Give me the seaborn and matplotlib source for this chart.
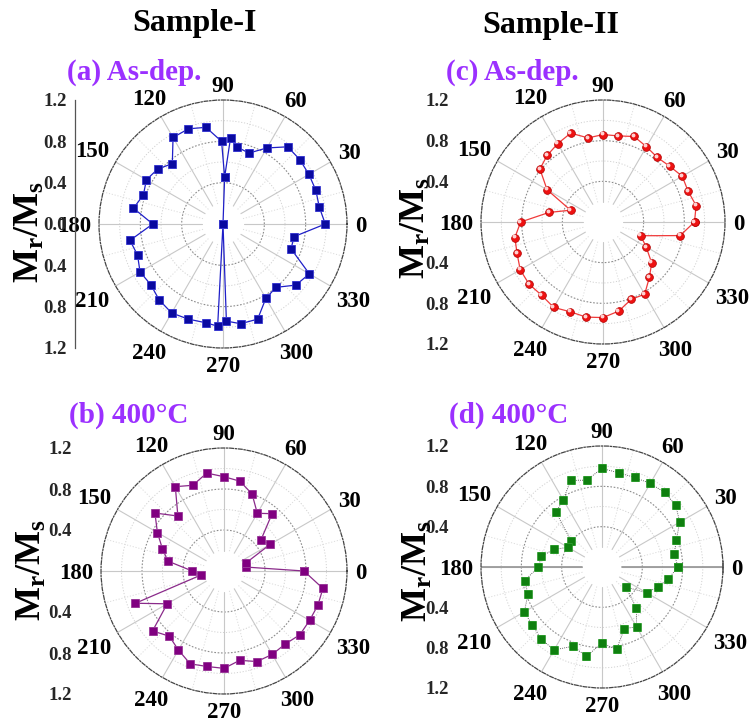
import numpy as np
import matplotlib
matplotlib.use("Agg")
import matplotlib.pyplot as plt
from matplotlib.ticker import MultipleLocator, FuncFormatter
from matplotlib.transforms import ScaledTranslation
import seaborn as sns

sns.set_theme(style="white")
plt.rcParams["font.family"] = ["Liberation Serif", "DejaVu Serif"]
plt.rcParams["font.weight"] = "bold"
plt.rcParams["mathtext.fontset"] = "custom"
plt.rcParams["mathtext.rm"] = "Liberation Serif:bold"
plt.rcParams["mathtext.bf"] = "Liberation Serif:bold"
plt.rcParams["mathtext.it"] = "Liberation Serif:bold"

# ---------------- data ----------------
# (a) Sample-I as-deposited, listed in drawing (path) order
a_theta = [88, 91, 100, 110, 120, 130, 140, 150, 160, 170, 180, 190, 200, 210,
           220, 230, 240, 250, 260, 267, 90, 272, 280, 290, 300, 310, 320, 330,
           340, 350, 0, 10, 20, 30, 40, 50, 60, 70, 80, 85, 88, 90]
a_r = [0.455, 0.80, 0.95, 0.98, 0.967, 0.763, 0.826, 0.856, 0.82, 0.88, 0.68,
       0.914, 0.88, 0.927, 0.913, 0.96, 0.994, 0.98, 0.97, 0.99, 0.0, 0.94,
       0.98, 0.98, 0.83, 0.80, 0.92, 0.965, 0.70, 0.70, 0.99, 0.946, 0.956,
       0.96, 0.97, 0.975, 0.85, 0.73, 0.76, 0.836, 0.455, 0.0]

angles = list(range(0, 360, 10))
# (b) Sample-I 400 C
b_r = [0.78, 0.22, 0.227, 0.52, 0.47, 0.73, 0.65, 0.80, 0.89, 0.92, 0.97, 0.89,
       0.95, 0.70, 0.88, 0.75, 0.64, 0.556, 0.31, 0.23, 0.92, 0.64, 0.91, 0.83,
       0.89, 0.964, 0.946, 0.95, 0.885, 0.94, 0.94, 0.93, 0.967, 0.964, 0.975, 0.98]
# (c) Sample-II as-deposited
c_r = [0.90, 0.93, 0.89, 0.90, 0.855, 0.83, 0.855, 0.895, 0.86, 0.86, 0.84, 0.93,
       0.89, 0.855, 0.81, 0.635, 0.34, 0.54, 0.81, 0.88, 0.90, 0.94, 0.95, 0.94,
       0.97, 0.94, 0.95, 0.94, 0.89, 0.81, 0.82, 0.71, 0.625, 0.49, 0.395, 0.77]
# (d) Sample-II 400 C
d_r = [0.755, 0.726, 0.785, 0.89, 0.954, 0.966, 0.957, 0.945, 0.95, 0.977, 0.875,
       0.913, 0.768, 0.71, 0.40, 0.39, 0.51, 0.61, 0.63, 0.78, 0.78, 0.89, 0.90,
       0.936, 0.95, 0.836, 0.90, 0.755, 0.83, 0.65, 0.686, 0.53, 0.31, 0.51,
       0.587, 0.667]

theta_ticks = list(range(0, 360, 30))
column_titles = ["Sample-I", "Sample-II"]
panel_titles = {"a": "(a) As-dep.", "b": "(b) 400°C", "c": "(c) As-dep.", "d": "(d) 400°C"}
ylabel = r"$\mathbf{M_r/M_s}$"

# ---------------- layout ----------------
W, H = 749, 720
fig = plt.figure(figsize=(W / 100, H / 100), dpi=100)
fig.patch.set_facecolor("white")

def fx(x):
    return x / W

def fy(y):
    return 1 - y / H


def make_polar(cx, cy, R, key):
    ax = fig.add_axes([fx(cx - R), fy(cy + R), 2 * R / W, 2 * R / H], projection="polar")
    ax.set_facecolor("none")
    ax.grid(False)
    ax.set_xticks([])
    ax.set_yticks([])
    sp = ax.spines["polar"]
    sp.set_color("#444444")
    sp.set_linewidth(0.9)
    sp.set_linestyle((0, (3, 1.5, 1, 1.5)))
    th = np.linspace(0, 2 * np.pi, 361)
    for rr in (0.4, 0.8):
        ax.plot(th, np.full_like(th, rr), ls=(0, (1.5, 1.5)), color="#8c8c8c", lw=0.8, zorder=1)
    for rr in (0.6, 1.0):
        ax.plot(th, np.full_like(th, rr), ls=(0, (1.2, 1.8)), color="#d2d2d2", lw=0.7, zorder=1)
    for a in range(0, 360, 30):
        ax.plot([np.deg2rad(a)] * 2, [0.2, 1.2], color="#c8c8c8", lw=0.8, zorder=1)
    for a in range(15, 360, 30):
        ax.plot([np.deg2rad(a)] * 2, [0.2, 1.2], color="#dcdcdc", lw=0.7,
                ls=(0, (1.2, 1.8)), zorder=1)
    if key == "d":
        for a in (0, 180):
            ax.plot([np.deg2rad(a)] * 2, [0.2, 1.2], color="#9a9a9a", lw=1.3, zorder=1)
        ax.plot([0], [1.2], marker="|", ms=9, mew=1.2, color="#777777", clip_on=False)
    # angular labels
    fs = 16.5
    em = fs * 100 / 72
    for a in theta_ticks:
        lab = str(a)
        w = len(lab) * 0.5 * em
        h = 0.66 * em
        t = np.deg2rad(a)
        d = R + 8 + abs(np.cos(t)) * w / 2 + abs(np.sin(t)) * h / 2
        ax.text(t, 1.2 * d / R, lab, ha="center", va="center_baseline", fontsize=fs,
                fontweight="bold", color="black", clip_on=False)
    return ax


def make_raxis(xline, cy, R, show_spine, show_ticks, with_zero):
    ay = fig.add_axes([fx(xline), fy(cy + R), 0.0005, 2 * R / H])
    ay.patch.set_alpha(0)
    ay.set_ylim(-1.2, 1.2)
    ticks = [-1.2, -0.8, -0.4, 0.0, 0.4, 0.8, 1.2] if with_zero else [-1.2, -0.8, -0.4, 0.4, 0.8, 1.2]
    ay.set_yticks(ticks)
    ay.yaxis.set_major_formatter(FuncFormatter(lambda v, p: f"{abs(v):.1f}"))
    ay.set_xticks([])
    for s in ("top", "right", "bottom"):
        ay.spines[s].set_visible(False)
    ay.spines["left"].set_visible(show_spine)
    ay.spines["left"].set_color("#555555")
    ay.spines["left"].set_linewidth(0.9)
    ay.tick_params(axis="y", which="major", length=4 if show_ticks else 0, width=0.8,
                   direction="out", color="#555555", labelsize=13.5, pad=2)
    for lab in ay.get_yticklabels():
        lab.set_fontweight("bold")
    if show_ticks and show_spine:
        ay.yaxis.set_minor_locator(MultipleLocator(0.2))
        ay.tick_params(axis="y", which="minor", length=2.5, width=0.7,
                       direction="out", color="#555555")
    return ay


panels = {
    "a": dict(cx=223, cy=224, R=124, xline=75, spine=True, ticks=True, zero=True,
              title_x=67, title_y=72, ylab=(30, 232)),
    "b": dict(cx=224, cy=571, R=123, xline=75, spine=False, ticks=False, zero=False,
              title_x=69, title_y=415, ylab=(32, 570)),
    "c": dict(cx=603, cy=222, R=122, xline=457, spine=False, ticks=True, zero=False,
              title_x=446, title_y=72, ylab=(416, 228)),
    "d": dict(cx=602, cy=567, R=121, xline=457, spine=False, ticks=True, zero=False,
              title_x=449, title_y=415, ylab=(418, 571)),
}

axes = {}
for key, p in panels.items():
    axes[key] = make_polar(p["cx"], p["cy"], p["R"], key)
    make_raxis(p["xline"], p["cy"], p["R"], p["spine"], p["ticks"], p["zero"])
    fig.text(fx(p["title_x"]), fy(p["title_y"]), panel_titles[key], ha="left", va="center",
             fontsize=21, fontweight="bold", color="#9b30ff")
    fig.text(fx(p["ylab"][0]), fy(p["ylab"][1]), ylabel, rotation=90, ha="center",
             va="center", fontsize=26, color="black")

fig.text(fx(195), fy(24), column_titles[0], ha="center", va="center", fontsize=23,
         fontweight="bold", color="black")
fig.text(fx(551), fy(26), column_titles[1], ha="center", va="center", fontsize=23,
         fontweight="bold", color="black")

# ---------------- data series ----------------
def closed(th, r):
    return np.deg2rad(np.append(th, th[0])), np.append(r, r[0])

# (a)
ax = axes["a"]
sns.lineplot(x=np.deg2rad(a_theta), y=a_r, ax=ax, sort=False, estimator=None,
             color="#1f1fc8", lw=0.9, marker="s", markersize=5.6,
             markerfacecolor="#0a0aa0", markeredgecolor="#3a3ad0", markeredgewidth=0.6, zorder=3)

# (b)
ax = axes["b"]
t, r = closed(angles, b_r)
sns.lineplot(x=t, y=r, ax=ax, sort=False, estimator=None, color="#8a2a8a", lw=0.9,
             marker="s", markersize=5.8, markerfacecolor="#800080",
             markeredgecolor="#9a3a9a", markeredgewidth=0.6, zorder=3)

# (c)
ax = axes["c"]
t, r = closed(angles, c_r)
sns.lineplot(x=t, y=r, ax=ax, sort=False, estimator=None, color="#f03a3a", lw=0.9,
             marker="o", markersize=5.6, markerfacecolor="#ee1111",
             markeredgecolor="#b00000", markeredgewidth=0.5, zorder=3)
ax.plot(np.deg2rad(angles), c_r, ls="none", marker="o", ms=1.8, color="#ffd0d0",
        transform=ax.transData + ScaledTranslation(-1.0 / 72, 1.0 / 72, fig.dpi_scale_trans),
        zorder=4)

# (d)
ax = axes["d"]
t, r = closed(angles, d_r)
sns.lineplot(x=t, y=r, ax=ax, sort=False, estimator=None, color="#333333", lw=0.6,
             linestyle=(0, (1, 1.5)), marker="s", markersize=6.2, markerfacecolor="#0f800f",
             markeredgecolor="#2a9a2a", markeredgewidth=0.5, zorder=3)

for ax in axes.values():
    ax.set_xlim(0, 2 * np.pi)
    ax.set_ylim(0, 1.2)
    ax.set_xlabel("")
    ax.set_ylabel("")
    ax.set_xticks([])
    ax.set_yticks([])
    leg = ax.get_legend()
    if leg:
        leg.remove()

fig.savefig("out.png", dpi=100, facecolor="white")
